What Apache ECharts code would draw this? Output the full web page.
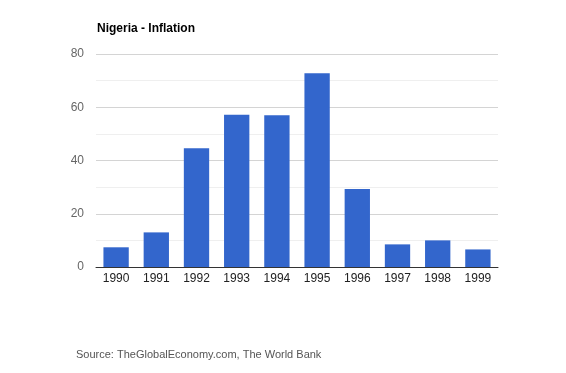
<!DOCTYPE html>
<html><head><meta charset="utf-8">
<script src="https://cdn.jsdelivr.net/npm/echarts@6/dist/echarts.min.js"></script>
<style>html,body{margin:0;padding:0;background:#fff}#c{width:566px;height:373px}</style>
</head><body><div id="c"></div>
<script>
var years = ['1990','1991','1992','1993','1994','1995','1996','1997','1998','1999'];
var inflation = [7.4, 13.0, 44.6, 57.2, 57.0, 72.8, 29.3, 8.5, 10.0, 6.6];
var yTicks = [0, 20, 40, 60, 80];

var chart = echarts.init(document.getElementById('c'), null, {renderer:'canvas'});
chart.setOption({
  animation:false,
  backgroundColor:'#fff',
  title:[
    {text:'Nigeria - Inflation', left:92, top:18, textStyle:{fontFamily:'Liberation Sans, Arial', fontSize:12, fontWeight:'bold', color:'#000'}},
    {text:'Source: TheGlobalEconomy.com, The World Bank', left:71, top:344, textStyle:{fontFamily:'Liberation Sans, Arial', fontSize:11, fontWeight:'normal', color:'#555'}}
  ],
  grid:{left:96, right:68, top:54, bottom:106, containLabel:false},
  xAxis:{type:'category', data:years,
    axisLine:{lineStyle:{color:'#333', width:1}}, axisTick:{show:false},
    axisLabel:{color:'#222', fontFamily:'Liberation Sans, Arial', fontSize:12, margin:6}},
  yAxis:{type:'value', min:yTicks[0], max:yTicks[yTicks.length-1], interval:20,
    axisLine:{show:false}, axisTick:{show:false},
    axisLabel:{color:'#666', fontFamily:'Liberation Sans, Arial', fontSize:12, margin:12},
    splitLine:{lineStyle:{color:'#d4d4d4'}},
    minorTick:{show:false, splitNumber:2},
    minorSplitLine:{show:true, lineStyle:{color:'#efefef'}}},
  series:[{type:'bar', data:inflation, barWidth:'63%', itemStyle:{color:'#3366CC'}}]
});
</script></body></html>
